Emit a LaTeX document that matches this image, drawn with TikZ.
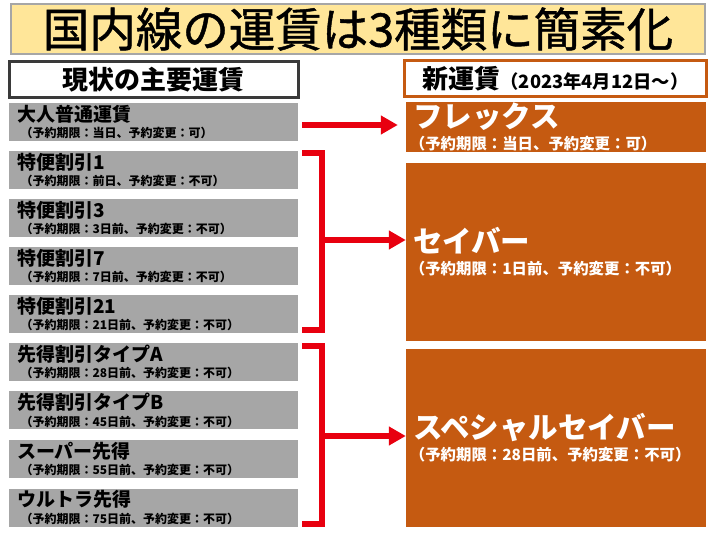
\documentclass[tikz,border=0pt]{standalone}
\usepackage{fontspec}
\setmainfont{Noto Sans CJK JP}
\newfontfamily\titlefont{Noto Sans CJK JP}[FakeBold=1]
\usetikzlibrary{arrows.meta}

\definecolor{titleYellow}{HTML}{FFE699}
\definecolor{titleEdge}{HTML}{A6A6A6}
\definecolor{fareGray}{HTML}{A6A6A6}
\definecolor{newOrange}{HTML}{C55A11}
\definecolor{headEdge}{HTML}{3A3A3A}
\definecolor{fareRed}{HTML}{E8000F}

\newcommand\oldterms[1]{{\fontsize{12}{12}\selectfont\hspace*{.3em}#1}}
\newcommand\newterms[1]{{\fontsize{15.4}{15.4}\selectfont\hspace*{-.2em}#1}}

\begin{document}
\begin{tikzpicture}[x=1pt, y=-1pt,
    oldfare/.style={rectangle, fill=fareGray, inner xsep=8pt, inner ysep=0pt, text width=273pt, minimum height=38pt, align=left, font=\fontsize{19}{16.5}\selectfont\bfseries},
    newfare/.style={rectangle, fill=newOrange, text=white, inner xsep=7pt, inner ysep=0pt, text width=286pt, align=left, font=\fontsize{29.5}{22}\selectfont\bfseries},
    heading/.style={rectangle, line width=3pt, fill=white, minimum height=36pt, font=\fontsize{26}{26}\selectfont\bfseries},
    redline/.style={draw=fareRed, line width=6.5pt},
    redarrow/.style={redline, -{Triangle[length=17pt,width=18pt]}}]
                \fill[white, use as bounding box] (0,0) rectangle (715,534);
                \node[rectangle, draw=titleEdge, line width=1.5pt, fill=titleYellow, minimum width=694pt, minimum height=50pt, font=\titlefont\fontsize{46.5}{46.5}\selectfont] (title) at (358,29) {国内線の運賃は3種類に簡素化};
                \node[heading, draw=headEdge, minimum width=289pt] (nowhead) at (153.5,80) {現状の主要運賃};
                \node[heading, draw=newOrange, minimum width=302pt] (newhead) at (555.5,79) {新運賃{\fontsize{18.3}{18.3}\selectfont（2023年4月12日～）}};
                % current fares
                \node[oldfare] (adult) at (153.5,122) {大人普通運賃\\\oldterms{（予約期限：当日、予約変更：可）}};
                \node[oldfare] (toku1) at (153.5,170) {特便割引1\\\oldterms{（予約期限：前日、予約変更：不可）}};
                \node[oldfare] (toku3) at (153.5,218) {特便割引3\\\oldterms{（予約期限：3日前、予約変更：不可）}};
                \node[oldfare] (toku7) at (153.5,266) {特便割引7\\\oldterms{（予約期限：7日前、予約変更：不可）}};
                \node[oldfare] (toku21) at (153.5,314) {特便割引21\\\oldterms{（予約期限：21日前、予約変更：不可）}};
                \node[oldfare] (sakiA) at (153.5,362) {先得割引タイプA\\\oldterms{（予約期限：28日前、予約変更：不可）}};
                \node[oldfare] (sakiB) at (153.5,410.5) {先得割引タイプB\\\oldterms{（予約期限：45日前、予約変更：不可）}};
                \node[oldfare] (super) at (153.5,459) {スーパー先得\\\oldterms{（予約期限：55日前、予約変更：不可）}};
                \node[oldfare] (ultra) at (153.5,507.5) {ウルトラ先得\\\oldterms{（予約期限：75日前、予約変更：不可）}};
                % new fares
                \node[newfare, minimum height=50pt] (flex) at (556,127) {フレックス\\\newterms{（予約期限：当日、予約変更：可）}};
                \node[newfare, minimum height=178pt] (saver) at (556,252) {セイバー\\\newterms{（予約期限：1日前、予約変更：不可）}};
                \node[newfare, minimum height=178pt] (special) at (556,438) {スペシャルセイバー\\\newterms{（予約期限：28日前、予約変更：不可）}};
                % arrows and brackets
                \draw[redarrow] ([xshift=4pt,yshift=-3pt]adult.east) -- ([xshift=-8pt,yshift=2pt]flex.west);
                \coordinate (tokutop) at ([xshift=4pt,yshift=-2pt]toku1.north east);
                \coordinate (tokubot) at ([xshift=4pt,yshift=3pt]toku21.south east);
                \coordinate (tokumid) at (322,240);
                \draw[redline] (tokutop) -- ++(20,0) |- (tokubot);
                \draw[redarrow] (tokumid) -- (tokumid -| saver.west);
                \coordinate (sakitop) at ([xshift=4pt,yshift=-3pt]sakiA.north east);
                \coordinate (sakibot) at ([xshift=4pt,yshift=2.5pt]ultra.south east);
                \coordinate (sakimid) at (322,436);
                \draw[redline] (sakitop) -- ++(20,0) |- (sakibot);
                \draw[redarrow] (sakimid) -- (sakimid -| special.west);
            \end{tikzpicture}
\end{document}
